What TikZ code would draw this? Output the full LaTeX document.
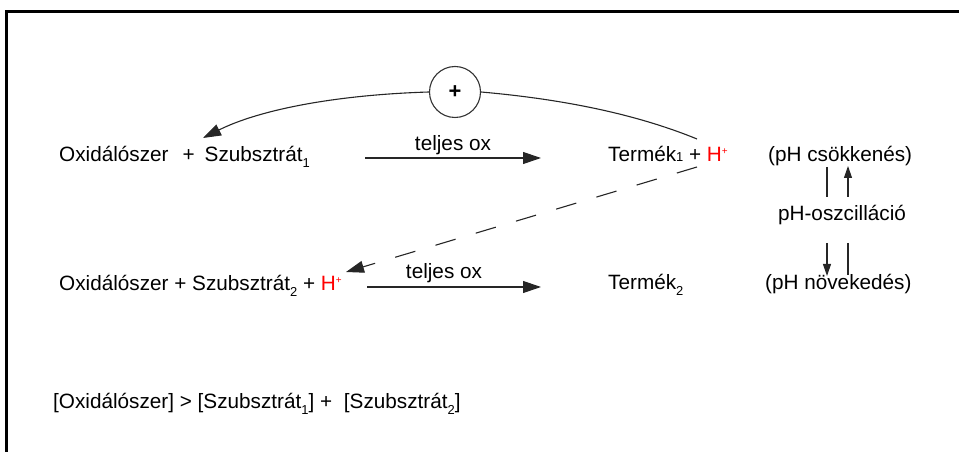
\documentclass[tikz,border=0pt]{standalone}
\usepackage{fontspec}
\setmainfont{Liberation Sans}
\usetikzlibrary{arrows.meta}

% lowered chemical index and red proton symbol
\newcommand{\lowsub}[2][-6bp]{\raisebox{#1}{\fontsize{13}{13}\selectfont #2}}
\newcommand{\proton}{\textcolor{red}{H\raisebox{7bp}{\fontsize{10}{10}\selectfont +}}}

\begin{document}
\begin{tikzpicture}[x=1bp, y=-1bp,
  txt/.style={font=\fontsize{20.8}{24}\selectfont, inner sep=0pt, anchor=base west},
  lab/.style={font=\fontsize{20.8}{24}\selectfont, inner sep=0pt, anchor=base},
  conn/.style={line width=1.1bp, draw=black!85},
  bigtip/.style={-{Triangle[length=18bp, width=12bp]}},
  smalltip/.style={-{Triangle[length=12bp, width=8bp]}},
  frame/.style={line width=3bp, line cap=rect}
]
\useasboundingbox (0,0) rectangle (959,452);

% outer frame (top and left edges)
\draw[frame] (6.3,452) -- (6.3,11.5) -- (959,11.5);

% first reaction row
\node[txt] (ox1) at (59,162)
  {Oxidálószer\hspace{14bp}+\hspace{10bp}Szubsztrát\lowsub{1}};
\node[txt] (t1) at (608,162) {Termék\lowsub[0bp]{1} + \proton};
\coordinate (a1s) at (365,158);
\coordinate (a1e) at (541,158);
\draw[conn, bigtip] (a1s) -- (a1e);
\node[lab] (l1) at (453,151) {teljes ox};

% second reaction row
\node[txt] (ox2) at (59,291)
  {Oxidálószer + Szubsztrát\lowsub{2} + \proton};
\node[txt] (t2) at (608,290) {Termék\lowsub{2}};
\coordinate (a2s) at (367,287);
\coordinate (a2e) at (541,287);
\draw[conn, bigtip] (a2s) -- (a2e);
\node[lab] (l2) at (444,279) {teljes ox};

% positive feedback loop through the circle
\node[circle, draw=black!80, line width=1.1bp, minimum size=51bp, inner sep=0pt,
      font=\fontsize{22}{24}\selectfont\bfseries] (fb) at (455,92) {+};
\coordinate (hout) at (697,139);
\coordinate (oxin) at (203,138);
\draw[conn] (hout) .. controls (637.7,114.7) and (565.3,99.4) .. (fb.east);
\draw[conn, bigtip] (fb.west) .. controls (333.8,94.9) and (258.3,110.2) .. (oxin);

% proton transfer to the second row
\coordinate (hdown) at (697,167);
\coordinate (hin) at (346,272);
\draw[conn, bigtip, dash pattern=on 21bp off 21bp] (hdown) -- (hin);

% pH oscillation
\node[txt] (phd) at (768,162) {(pH csökkenés)};
\node[lab] (pho) at (842,221) {pH-oszcilláció};
\node[txt] (phi) at (765,290) {(pH növekedés)};
\coordinate (u1a) at (827,167); \coordinate (u1b) at (827,197);
\coordinate (u2a) at (848,197); \coordinate (u2b) at (848,166);
\coordinate (d1a) at (827,243); \coordinate (d1b) at (827,276);
\coordinate (d2a) at (848,243); \coordinate (d2b) at (848,275);
\draw[conn] (u1a) -- (u1b);
\draw[conn, smalltip] (u2a) -- (u2b);
\draw[conn, smalltip] (d1a) -- (d1b);
\draw[conn] (d2a) -- (d2b);

% concentration condition
\node[txt] (cond) at (53,408)
  {[Oxidálószer] > [Szubsztrát\lowsub{1}] +\hspace{6bp} [Szubsztrát\lowsub{2}]};
\end{tikzpicture}
\end{document}
